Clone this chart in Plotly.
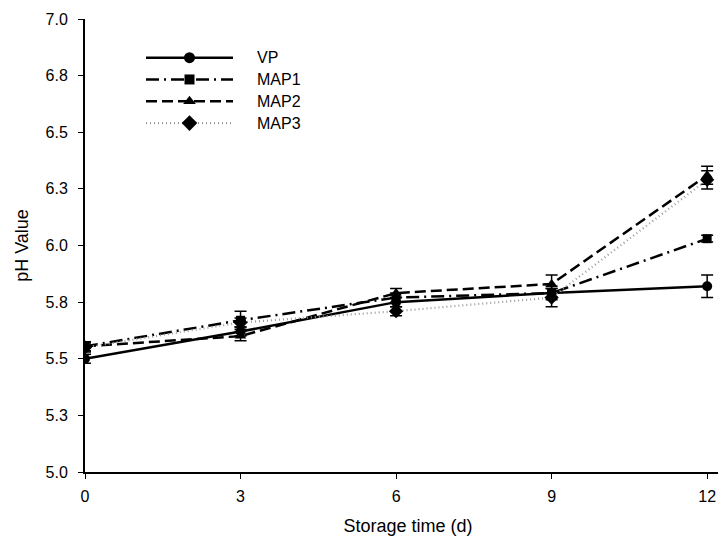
import plotly.graph_objects as go

days = [0, 3, 6, 9, 12]
series_names = ["VP", "MAP1", "MAP2", "MAP3"]
vp = [5.50, 5.62, 5.75, 5.79, 5.82]
vp_err = [0.02, 0.02, 0.02, 0.03, 0.05]
map1 = [5.555, 5.67, 5.77, 5.79, 6.03]
map1_err = [0.02, 0.04, 0.02, 0.02, 0.015]
map2 = [5.555, 5.60, 5.79, 5.83, 6.31]
map2_err = [0.02, 0.02, 0.02, 0.04, 0.04]
map3 = [5.55, 5.66, 5.71, 5.77, 6.29]
map3_err = [0.02, 0.02, 0.02, 0.04, 0.04]

y_tickvals = [5.0, 5.25, 5.5, 5.75, 6.0, 6.25, 6.5, 6.75, 7.0]
y_ticktext = ["5.0", "5.3", "5.5", "5.8", "6.0", "6.3", "6.5", "6.8", "7.0"]
x_tickvals = [0, 3, 6, 9, 12]

values = [vp, map1, map2, map3]
errors = [vp_err, map1_err, map2_err, map3_err]
styles = [
    dict(symbol="circle", dash="solid", lcolor="black", lw=2.5, msize=10),
    dict(symbol="square", dash="13px,5px,2px,5px", lcolor="black", lw=2.5, msize=9),
    dict(symbol="triangle-up", dash="11px,5px", lcolor="black", lw=2.5, msize=10),
    dict(symbol="diamond", dash="1px,3px", lcolor="#9a9a9a", lw=2.2, msize=11),
]

FONT = "Liberation Sans, Arial, sans-serif"
fig = go.Figure()

for name, v, e, s in zip(series_names, values, errors, styles):
    fig.add_trace(go.Scatter(
        x=days, y=v, name=name, mode="lines+markers",
        line=dict(color=s["lcolor"], width=s["lw"], dash=s["dash"]),
        marker=dict(symbol=s["symbol"], size=s["msize"], color="black"),
        error_y=dict(type="data", array=e, visible=True, color="black",
                     thickness=1.5, width=6),
        showlegend=False,
    ))

# manual legend drawn on an overlay axis whose units are pixels of the plot area
leg_x0, leg_x1, leg_mid, leg_text = 61, 148, 104.5, 170
leg_rows = [418, 396, 374, 352]
for name, s, yy in zip(series_names, styles, leg_rows):
    fig.add_trace(go.Scatter(
        x=[leg_x0, leg_x1], y=[yy, yy], mode="lines",
        line=dict(color=s["lcolor"], width=s["lw"], dash=s["dash"]),
        xaxis="x2", yaxis="y2", showlegend=False, hoverinfo="skip"))
    fig.add_trace(go.Scatter(
        x=[leg_mid], y=[yy], mode="markers",
        marker=dict(symbol=s["symbol"], size=s["msize"] + 1, color="black"),
        xaxis="x2", yaxis="y2", showlegend=False, hoverinfo="skip"))
    fig.add_annotation(x=leg_text, y=yy, xref="x2", yref="y2", text=name,
                       showarrow=False, xanchor="left", yanchor="middle",
                       font=dict(family=FONT, size=16, color="black"))

fig.update_layout(
    width=726, height=541,
    margin=dict(l=77, r=3, t=7, b=77),
    paper_bgcolor="white", plot_bgcolor="white",
    font=dict(family=FONT, size=15, color="black"),
    xaxis=dict(
        range=[0, 12.46], tickvals=x_tickvals, ticks="outside", ticklen=5,
        tickwidth=1, tickcolor="black", showline=True, linecolor="black",
        linewidth=2, showgrid=False, zeroline=False,
        title=dict(text="Storage time (d)", font=dict(size=18), standoff=15),
        tickfont=dict(size=16), ticklabelstandoff=4,
    ),
    yaxis=dict(
        range=[5.0, 7.0], tickvals=y_tickvals, ticktext=y_ticktext,
        ticks="outside", ticklen=5, tickwidth=1, tickcolor="black",
        showline=True, linecolor="black", linewidth=2, showgrid=False,
        zeroline=False, ticklabeloverflow="allow", ticklabelstandoff=7,
        title=dict(text="pH Value", font=dict(size=18), standoff=12),
        tickfont=dict(size=16),
    ),
    xaxis2=dict(range=[0, 646], overlaying="x", visible=False, fixedrange=True),
    yaxis2=dict(range=[0, 457], overlaying="y", visible=False, fixedrange=True),
    showlegend=False,
)

fig.write_html("out.html")
